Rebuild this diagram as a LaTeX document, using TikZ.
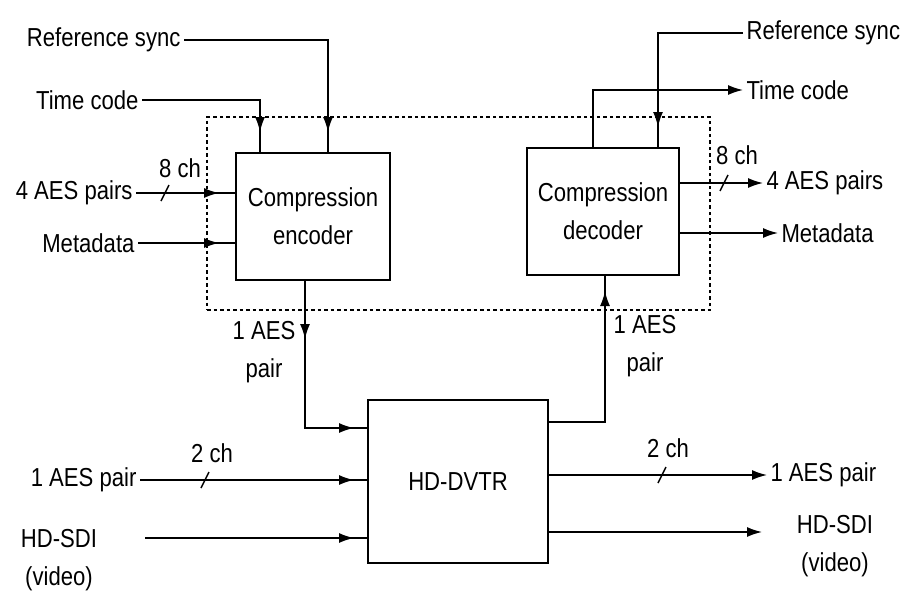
\documentclass[tikz,border=0pt]{standalone}
\usepackage{fontspec}
\setmainfont{Liberation Sans}[FakeStretch=0.85]
\usetikzlibrary{arrows.meta,positioning,calc,decorations.markings}

\begin{document}
\begin{tikzpicture}[
    x=1pt, y=-1pt,
    >={Latex[length=15pt,width=10pt]},
    every node/.style={font=\fontsize{26}{38}\selectfont, align=center},
    blk/.style={draw, line width=2pt, inner sep=0pt},
    wire/.style={line width=1.5pt},
    bound/.style={draw, line width=2pt, dash pattern=on 3.5pt off 3pt},
    tipat/.style={decoration={markings, mark=at position #1 with {\arrow{>}}}, postaction={decorate}},
]
  \useasboundingbox (0,0) rectangle (904,597);

  % blocks
  \node[bound, minimum width=503pt, minimum height=193pt] (iface) at (458.5,213.5) {};
  \node[blk, minimum width=154pt, minimum height=127pt] (enc) at (313,216.5) {Compression\\encoder};
  \node[blk, minimum width=152pt, minimum height=127pt] (dec) at (603,211.5) {Compression\\decoder};
  \node[blk, minimum width=180pt, minimum height=163pt] (dvtr) at (458,481.5) {HD-DVTR};

  % encoder inputs (left)
  \node[anchor=east] (refL) at (184,40) {Reference sync};
  \node[anchor=east] (tcL) at (142,100) {Time code};
  \node[anchor=east] (aesL) at (136,193) {4 AES pairs};
  \node[anchor=east] (metaL) at (138,243) {Metadata};
  \coordinate (rsx) at (328,0);
  \coordinate (tcx) at (260,0);
  \draw[wire, tipat=-20pt] (refL.east) -| (rsx |- enc.north);
  \draw[wire, tipat=-20pt] (tcL.east) -| (tcx |- enc.north);
  \draw[wire, tipat=-16pt] (aesL.east) -- (enc.west |- aesL);
  \draw[wire, tipat=-16pt] (metaL.east) -- (enc.west |- metaL);
  \coordinate (s1) at (165,193);
  \draw[wire] ($(s1)+(-4,8)$) -- ($(s1)+(4,-8)$);
  \node (ch1) at (180,168) {8 ch};

  % decoder outputs (right)
  \node[anchor=west] (refR) at (743,33) {Reference sync};
  \node[anchor=west] (tcR) at (743,90) {Time code};
  \node[anchor=west] (aesR) at (763,183) {4 AES pairs};
  \node[anchor=west] (metaR) at (778,233) {Metadata};
  \coordinate (rsy) at (658,0);
  \coordinate (tcy) at (593,0);
  \draw[wire, tipat=-20pt] (refR.west) -| (rsy |- dec.north);
  \draw[wire, ->] (tcy |- dec.north) |- (tcR.west);
  \draw[wire, ->] (dec.east |- aesR) -- (aesR.west);
  \draw[wire, ->] (dec.east |- metaR) -- (metaR.west);
  \coordinate (s2) at (724,183);
  \draw[wire] ($(s2)+(-4,8)$) -- ($(s2)+(4,-8)$);
  \node (ch2) at (737,155) {8 ch};

  % encoder -> HD-DVTR -> decoder
  \coordinate (eox) at (305,428);
  \draw[wire, decoration={markings, mark=at position 58pt with {\arrow{>}},
      mark=at position -13pt with {\arrow{>}}}, postaction={decorate}]
    (eox |- enc.south) |- (dvtr.west |- eox);
  \node (pr1) at (264,352) {1 AES\\pair};
  \coordinate (dix) at (605,422);
  \draw[wire, tipat=-15pt] (dvtr.east |- dix) -| (dix |- dec.south);
  \node (pr2) at (645,346) {1 AES\\pair};

  % HD-DVTR inputs
  \node[anchor=east] (aesIn) at (140,480) {1 AES pair};
  \node (sdiIn) at (59,560) {HD-SDI\\(video)};
  \coordinate (sdi) at (145,538);
  \draw[wire, tipat=-13pt] (aesIn.east) -- (dvtr.west |- aesIn);
  \draw[wire, tipat=-13pt] (sdi) -- (dvtr.west |- sdi);
  \coordinate (s3) at (205,480);
  \draw[wire] ($(s3)+(-4,8)$) -- ($(s3)+(4,-8)$);
  \node (ch3) at (212,453) {2 ch};

  % HD-DVTR outputs
  \node[anchor=west] (aesOut) at (767,475) {1 AES pair};
  \node (sdiOut) at (835,546) {HD-SDI\\(video)};
  \coordinate (sdo) at (762,532);
  \draw[wire, ->] (dvtr.east |- aesOut) -- (aesOut.west);
  \draw[wire, ->] (dvtr.east |- sdo) -- (sdo);
  \coordinate (s4) at (662,475);
  \draw[wire] ($(s4)+(-4,8)$) -- ($(s4)+(4,-8)$);
  \node (ch4) at (668,448) {2 ch};
\end{tikzpicture}
\end{document}
